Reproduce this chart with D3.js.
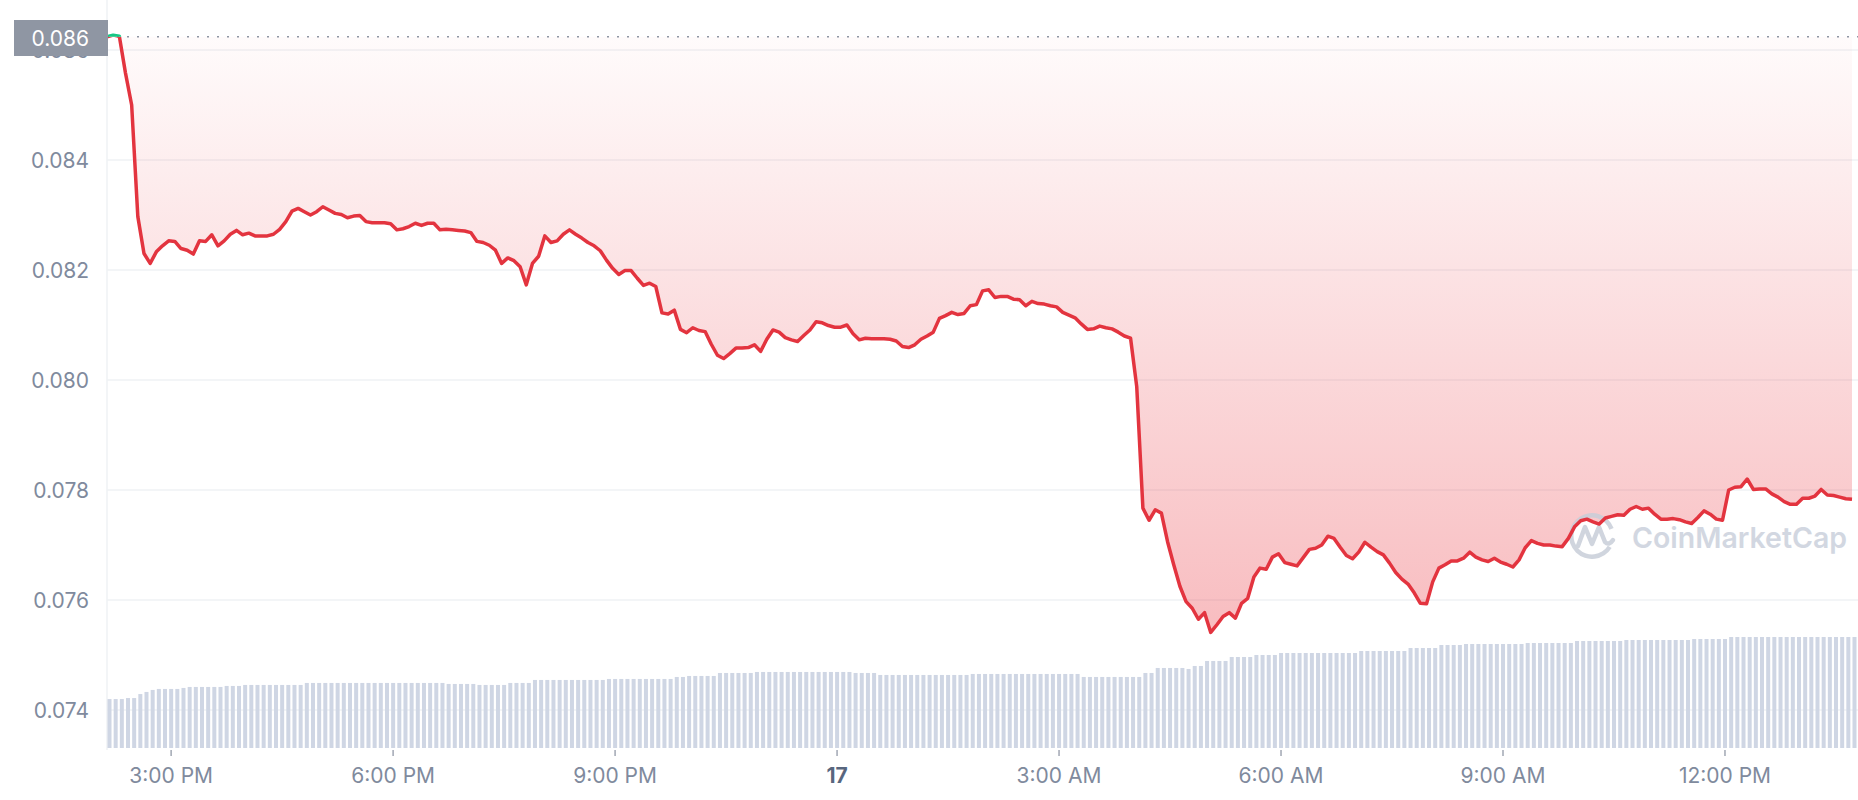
<!DOCTYPE html>
<html><head><meta charset="utf-8">
<script src="https://cdn.jsdelivr.net/npm/d3@7"></script>
<style>
body{margin:0;background:#fff;}
svg{display:block;font-family:Inter,"Noto Sans",sans-serif;}
</style>
</head><body>
<svg id="chart" width="1858" height="800"></svg>
<script>
// ---------- data ----------
const startTime = Date.UTC(2023, 2, 16, 14, 8);   // first sample (UTC)
const stepMinutes = 5;
const referencePrice = 0.08624;                    // opening price (dotted line)
const referenceLabel = "0.086";
const yTicks = [0.074, 0.076, 0.078, 0.080, 0.082, 0.084, 0.086];
const watermarkText = "CoinMarketCap";

const prices = [
0.08624,0.08627,0.08625,0.08558,0.08500,0.08297,0.08230,0.08212,0.08233,0.08244,
0.08253,0.08252,0.08239,0.08236,0.08229,0.08253,0.08252,0.08264,0.08244,0.08253,
0.08265,0.08272,0.08264,0.08267,0.08262,0.08262,0.08262,0.08265,0.08274,0.08288,
0.08307,0.08312,0.08306,0.08300,0.08306,0.08315,0.08309,0.08303,0.08301,0.08295,
0.08298,0.08299,0.08288,0.08286,0.08286,0.08286,0.08284,0.08273,0.08275,0.08279,
0.08285,0.08281,0.08285,0.08285,0.08273,0.08274,0.08273,0.08272,0.08271,0.08268,
0.08252,0.08250,0.08245,0.08236,0.08212,0.08222,0.08217,0.08206,0.08173,0.08212,
0.08225,0.08262,0.08250,0.08253,0.08265,0.08273,0.08265,0.08258,0.08250,0.08244,
0.08235,0.08218,0.08203,0.08192,0.08199,0.08199,0.08185,0.08172,0.08176,0.08170,
0.08122,0.08120,0.08127,0.08092,0.08086,0.08095,0.08090,0.08088,0.08065,0.08045,
0.08039,0.08048,0.08058,0.08058,0.08059,0.08064,0.08052,0.08074,0.08091,0.08087,
0.08077,0.08073,0.08070,0.08081,0.08091,0.08106,0.08104,0.08099,0.08096,0.08096,
0.08100,0.08084,0.08073,0.08076,0.08075,0.08075,0.08075,0.08074,0.08071,0.08061,
0.08059,0.08064,0.08074,0.08080,0.08087,0.08112,0.08117,0.08123,0.08119,0.08121,
0.08135,0.08137,0.08162,0.08164,0.08150,0.08152,0.08152,0.08147,0.08146,0.08135,
0.08143,0.08139,0.08138,0.08135,0.08133,0.08123,0.08118,0.08113,0.08102,0.08092,
0.08093,0.08098,0.08095,0.08093,0.08087,0.08080,0.08076,0.07988,0.07767,0.07745,
0.07764,0.07758,0.07706,0.07664,0.07625,0.07597,0.07585,0.07565,0.07577,0.07541,
0.07555,0.07570,0.07577,0.07567,0.07594,0.07603,0.07642,0.07658,0.07656,0.07678,
0.07684,0.07668,0.07665,0.07662,0.07677,0.07692,0.07694,0.07700,0.07716,0.07712,
0.07696,0.07681,0.07675,0.07687,0.07705,0.07696,0.07688,0.07682,0.07667,0.07650,
0.07638,0.07629,0.07613,0.07594,0.07593,0.07633,0.07658,0.07664,0.07671,0.07671,
0.07676,0.07687,0.07678,0.07673,0.07670,0.07676,0.07669,0.07665,0.07660,0.07673,
0.07695,0.07708,0.07703,0.07700,0.07700,0.07698,0.07697,0.07712,0.07733,0.07744,
0.07747,0.07742,0.07738,0.07749,0.07752,0.07755,0.07754,0.07765,0.07770,0.07765,
0.07767,0.07756,0.07747,0.07747,0.07748,0.07746,0.07742,0.07739,0.07750,0.07762,
0.07756,0.07747,0.07745,0.07800,0.07805,0.07806,0.07820,0.07801,0.07802,0.07802,
0.07793,0.07787,0.07779,0.07774,0.07774,0.07785,0.07785,0.07789,0.07801,0.07791,
0.07790,0.07787,0.07784,0.07783
];

// rolling 24h volume (millions, relative)
const volumes = [
44.1,44.1,44.1,45.0,45.0,48.6,50.5,52.3,53.2,53.2,
53.2,53.2,54.1,55.0,55.0,55.0,55.0,55.0,55.0,55.9,
55.9,55.9,56.8,56.8,56.8,56.8,56.8,56.8,56.8,56.8,
56.8,56.8,58.6,58.6,58.6,58.6,58.6,58.6,58.6,58.6,
58.6,58.6,58.6,58.6,58.6,58.6,58.6,58.6,58.6,58.6,
58.6,58.6,58.6,58.6,58.6,57.7,57.7,57.7,57.7,57.7,
56.8,56.8,56.8,56.8,56.8,58.6,58.6,58.6,58.6,61.3,
61.3,61.3,61.3,61.3,61.3,61.3,61.3,61.3,61.3,61.3,
61.3,62.2,62.2,62.2,62.2,62.2,62.2,62.2,62.2,62.2,
62.2,62.2,64.0,64.0,64.9,64.9,64.9,64.9,64.9,67.6,
67.6,67.6,67.6,67.6,67.6,68.5,68.5,68.5,68.5,68.5,
68.5,68.5,68.5,68.5,68.5,68.5,68.5,68.5,68.5,68.5,
68.5,67.6,67.6,67.6,67.6,65.8,65.8,65.8,65.8,65.8,
65.8,65.8,65.8,65.8,65.8,65.8,65.8,65.8,65.8,65.8,
66.7,66.7,66.7,66.7,66.7,66.7,66.7,66.7,66.7,66.7,
66.7,66.7,66.7,66.7,66.7,66.7,66.7,66.7,64.0,64.0,
64.0,64.0,64.0,64.0,64.0,64.0,64.0,64.0,67.6,67.6,
72.1,72.1,72.1,72.1,72.1,71.2,73.9,73.9,78.4,78.4,
78.4,78.4,82.0,82.0,82.0,82.0,83.8,83.8,83.8,83.8,
85.6,85.6,85.6,85.6,85.6,85.6,85.6,85.6,85.6,85.6,
85.6,85.6,85.6,87.4,87.4,87.4,87.4,87.4,87.4,87.4,
87.4,90.1,90.1,90.1,90.1,90.1,92.8,92.8,92.8,92.8,
93.7,93.7,93.7,93.7,93.7,93.7,93.7,93.7,93.7,93.7,
94.6,94.6,94.6,94.6,94.6,94.6,94.6,94.6,96.4,96.4,
96.4,96.4,96.4,96.4,96.4,96.4,97.3,97.3,97.3,97.3,
97.3,97.3,97.3,97.3,97.3,97.3,97.3,98.2,98.2,98.2,
98.2,98.2,98.2,100,100,100,100,100,100,100,
100,100,100,100,100,100,100,100,100,100,
100,100,100,100
];

// ---------- build ----------
const data = prices.map((v, i) => ({
  t: new Date(startTime + i * stepMinutes * 60000), v, vol: volumes[i]
}));

const svg = d3.select("#chart");
const W = 1858;
const left = 107, right = 1852, plotRight = 1858;
const volBottom = 748;

const x = d3.scaleUtc().domain([data[0].t, data[data.length - 1].t]).range([left, right]);
const y = d3.scaleLinear().domain([0.074, 0.086]).range([710, 50]);
const yVol = d3.scaleLinear().domain([0, 100]).range([volBottom, 637]);

const red = "#e3343f", green = "#16c784", gray = "#808a9d";
const yRef = y(referencePrice);

const defs = svg.append("defs");
const grad = defs.append("linearGradient").attr("id", "fillGrad")
  .attr("gradientUnits", "userSpaceOnUse").attr("x1", 0).attr("x2", 0)
  .attr("y1", yRef).attr("y2", 640);
grad.append("stop").attr("offset", 0).attr("stop-color", "#ea3943").attr("stop-opacity", 0.02);
grad.append("stop").attr("offset", 1).attr("stop-color", "#ea3943").attr("stop-opacity", 0.34);

defs.append("clipPath").attr("id", "above").append("rect")
  .attr("x", 0).attr("y", 0).attr("width", W).attr("height", yRef);
defs.append("clipPath").attr("id", "below").append("rect")
  .attr("x", 0).attr("y", yRef).attr("width", W).attr("height", 800 - yRef);

// vertical axis line
svg.append("line").attr("x1", left).attr("x2", left).attr("y1", 0).attr("y2", volBottom + 2)
  .attr("stroke", "#eff2f5").attr("stroke-width", 1.5);

// gridlines
svg.append("g").selectAll("line").data(yTicks).join("line")
  .attr("x1", left).attr("x2", plotRight)
  .attr("y1", d => y(d)).attr("y2", d => y(d))
  .attr("stroke", "#eff2f5").attr("stroke-width", 1.5);

// area fill between reference and price
svg.append("path").datum(data)
  .attr("d", d3.area().x(d => x(d.t)).y0(yRef).y1(d => y(d.v)))
  .attr("fill", "url(#fillGrad)");

// volume bars
svg.append("g").selectAll("rect").data(data).join("rect")
  .attr("x", d => x(d.t) + 0.5)
  .attr("width", 4)
  .attr("y", d => yVol(d.vol))
  .attr("height", d => volBottom - yVol(d.vol))
  .attr("fill", "#cfd6e4");

// reference dotted line
svg.append("line").attr("x1", left).attr("x2", plotRight).attr("y1", yRef).attr("y2", yRef)
  .attr("stroke", "#8f96a3").attr("stroke-width", 1.6).attr("stroke-dasharray", "2 8");

// watermark
const wm = svg.append("g").attr("opacity", 0.85);
const cx = 1592, cy = 536;
wm.append("path")
  .attr("transform", `translate(${cx},${cy})`)
  .attr("d", d3.arc()({innerRadius: 18.5, outerRadius: 23, startAngle: Math.PI / 2 + 0.55, endAngle: Math.PI / 2 + 2 * Math.PI - 0.35}))
  .attr("fill", "#c8ced9");
wm.append("path")
  .attr("d", `M${cx-14},${cy+10} L${cx-7},${cy-9} L${cx},${cy+8} L${cx+7},${cy-9} L${cx+13},${cy+6} Q${cx+17},${cy+10} ${cx+21},${cy+4}`)
  .attr("fill", "none").attr("stroke", "#c8ced9").attr("stroke-width", 4.5)
  .attr("stroke-linejoin", "round").attr("stroke-linecap", "round");
wm.append("text").attr("x", 1632).attr("y", 548)
  .attr("font-size", 29).attr("font-weight", 600).attr("fill", "#cbd1dc")
  .attr("textLength", 215).attr("lengthAdjust", "spacingAndGlyphs")
  .text(watermarkText);

// price line
const line = d3.line().x(d => x(d.t)).y(d => y(d.v));
svg.append("path").datum(data).attr("d", line).attr("fill", "none")
  .attr("stroke", red).attr("stroke-width", 3.5).attr("stroke-linejoin", "round")
  .attr("clip-path", "url(#below)");
svg.append("path").datum(data).attr("d", line).attr("fill", "none")
  .attr("stroke", green).attr("stroke-width", 3.5).attr("stroke-linejoin", "round")
  .attr("clip-path", "url(#above)");

// y-axis labels
svg.append("g").selectAll("text").data(yTicks).join("text")
  .attr("x", 89).attr("y", d => y(d)).attr("dy", "0.36em")
  .attr("text-anchor", "end").attr("font-size", 21).attr("fill", gray)
  .text(d => d3.format(".3f")(d));

// reference label box
svg.append("rect").attr("x", 14).attr("y", 20).attr("width", 94).attr("height", 36)
  .attr("fill", "#8f96a3");
svg.append("text").attr("x", 89).attr("y", 38).attr("dy", "0.36em")
  .attr("text-anchor", "end").attr("font-size", 21).attr("fill", "#ffffff")
  .text(referenceLabel);

// x-axis ticks + labels
const ticks = x.ticks(d3.utcHour.every(3));
const fmt = d => {
  const h = d.getUTCHours();
  if (h === 0) return d3.utcFormat("%-d")(d);
  return (h % 12 || 12) + ":00 " + (h < 12 ? "AM" : "PM");
};
const xg = svg.append("g");
xg.selectAll("line").data(ticks).join("line")
  .attr("x1", d => x(d)).attr("x2", d => x(d)).attr("y1", 750).attr("y2", 756)
  .attr("stroke", "#a1a7b3").attr("stroke-width", 1.5);
xg.selectAll("text").data(ticks).join("text")
  .attr("x", d => x(d)).attr("y", 783)
  .attr("text-anchor", "middle").attr("font-size", 21)
  .attr("font-weight", d => d.getUTCHours() === 0 ? 700 : 400)
  .attr("fill", d => d.getUTCHours() === 0 ? "#58667e" : gray)
  .text(fmt);
</script>
</body></html>
